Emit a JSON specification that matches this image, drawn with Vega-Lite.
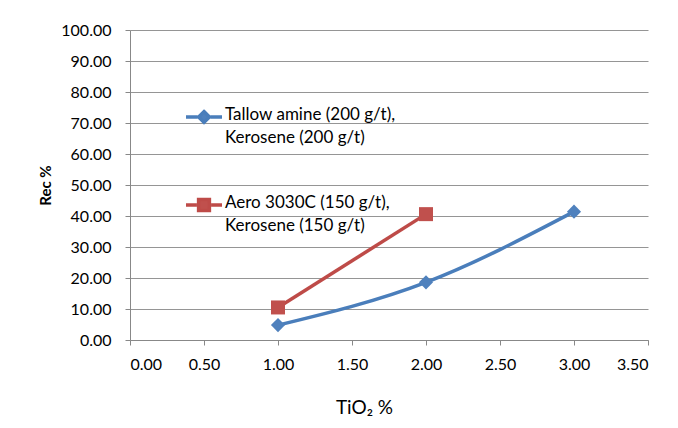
{
  "$schema": "https://vega.github.io/schema/vega-lite/v6.json",
  "width": 518,
  "height": 310,
  "autosize": {"type": "none"},
  "padding": {"left": 130, "top": 30, "right": 30, "bottom": 88},
  "background": "white",
  "config": {
    "font": "Lato",
    "view": {"stroke": null},
    "axis": {
      "labelFont": "Lato",
      "labelFontSize": 16,
      "labelColor": "#000000",
      "titleFont": "Lato",
      "titleColor": "#000000",
      "domainColor": "#888888",
      "tickColor": "#888888",
      "tickSize": 5,
      "gridColor": "#959595",
      "gridWidth": 1
    }
  },
  "data": {
    "values": [
      {"series": "Tallow amine (200 g/t),|Kerosene (200 g/t)", "tio2": 1, "rec": 4.8},
      {"series": "Tallow amine (200 g/t),|Kerosene (200 g/t)", "tio2": 2, "rec": 18.6},
      {"series": "Tallow amine (200 g/t),|Kerosene (200 g/t)", "tio2": 3, "rec": 41.4},
      {"series": "Aero 3030C (150 g/t),|Kerosene (150 g/t)", "tio2": 1, "rec": 10.5},
      {"series": "Aero 3030C (150 g/t),|Kerosene (150 g/t)", "tio2": 2, "rec": 40.6}
    ]
  },
  "encoding": {
    "x": {
      "field": "tio2",
      "type": "quantitative",
      "scale": {"domain": [0, 3.5], "nice": false},
      "axis": {
        "values": [0, 0.5, 1, 1.5, 2, 2.5, 3, 3.5],
        "format": ".2f",
        "grid": false,
        "labelPadding": 11,
        "title": "TiO₂ %",
        "titleFontSize": 19,
        "titleFontWeight": "normal",
        "titlePadding": 26,
        "titleX": 234
      }
    },
    "y": {
      "field": "rec",
      "type": "quantitative",
      "scale": {"domain": [0, 100], "nice": false},
      "axis": {
        "values": [0, 10, 20, 30, 40, 50, 60, 70, 80, 90, 100],
        "format": ".2f",
        "labelPadding": 14,
        "title": "Rec %",
        "titleFontSize": 15,
        "titleFontWeight": "bold",
        "titlePadding": 7
      }
    }
  },
  "layer": [
    {
      "mark": {"type": "line", "strokeWidth": 3.5, "interpolate": "monotone"},
      "encoding": {
        "color": {
          "field": "series",
          "type": "nominal",
          "sort": ["Tallow amine (200 g/t),|Kerosene (200 g/t)", "Aero 3030C (150 g/t),|Kerosene (150 g/t)"],
          "scale": {
            "domain": ["Tallow amine (200 g/t),|Kerosene (200 g/t)", "Aero 3030C (150 g/t),|Kerosene (150 g/t)"],
            "range": ["#4A7EBB", "#BE4B48"]
          },
          "legend": {
            "orient": "none",
            "legendX": 54,
            "legendY": 67,
            "title": null,
            "padding": 0,
            "rowPadding": 39,
            "symbolSize": 1296,
            "symbolStrokeWidth": 3,
            "labelFont": "Lato",
            "labelFontSize": 17,
            "labelColor": "#000000",
            "labelOffset": 1,
            "labelLimit": 300,
            "labelExpr": "split(datum.label, '|')",
            "encode": {
              "symbols": {
                "update": {
                  "shape": {"signal": "indexof(datum.value, 'Tallow') === 0 ? 'M-1,0L-0.36,0M0.36,0L1,0M0,-0.3L0.3,0L0,0.3L-0.3,0Z' : 'M-1,0L-0.4,0M0.4,0L1,0M-0.3,-0.3L0.3,-0.3L0.3,0.3L-0.3,0.3Z'"},
                  "fill": {"signal": "indexof(datum.value, 'Tallow') === 0 ? '#4F81BD' : '#C0504D'"},
                  "stroke": {"signal": "indexof(datum.value, 'Tallow') === 0 ? '#4A7EBB' : '#BE4B48'"},
                  "strokeWidth": {"value": 3.5},
                  "opacity": {"value": 1},
                  "fillOpacity": {"value": 1}
                }
              },
              "labels": {
                "update": {
                  "lineHeight": {"value": 23},
                  "baseline": {"value": "top"},
                  "dy": {"value": -10}
                }
              }
            }
          }
        }
      }
    },
    {
      "transform": [{"filter": "indexof(datum.series, 'Tallow') === 0"}],
      "mark": {"type": "point", "shape": "diamond", "filled": true, "opacity": 1, "size": 200, "color": "#4F81BD"}
    },
    {
      "transform": [{"filter": "indexof(datum.series, 'Aero') === 0"}],
      "mark": {"type": "point", "shape": "square", "filled": true, "opacity": 1, "size": 196, "color": "#C0504D"}
    }
  ]
}
